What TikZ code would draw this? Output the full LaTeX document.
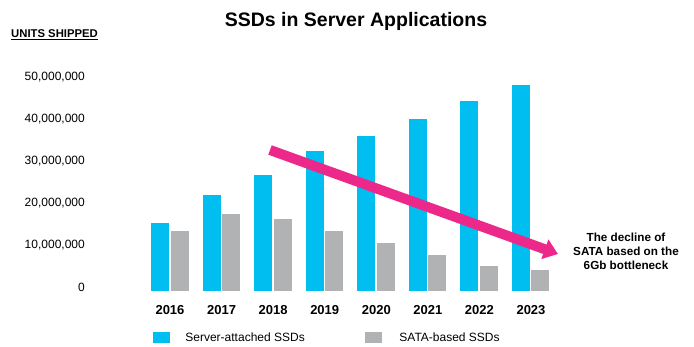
\documentclass[tikz,border=0pt]{standalone}
\usepackage{fontspec}
\setmainfont{Liberation Sans}
\usetikzlibrary{arrows.meta,positioning}
\definecolor{ssdblue}{RGB}{0,190,240}
\definecolor{satagray}{RGB}{176,178,180}
\definecolor{trendpink}{RGB}{236,41,138}
\newcommand{\mil}{4.21}% pt per million units

\begin{document}
\begin{tikzpicture}[x=1pt,y=1pt,
        ylab/.style={anchor=east,inner sep=0pt,font=\fontsize{12}{14}\selectfont},
        yearlab/.style={inner sep=0pt,font=\bfseries\fontsize{13}{15}\selectfont},
        legtext/.style={anchor=west,inner sep=0pt,font=\fontsize{12}{14}\selectfont},
        swatch/.style={minimum width=17pt,minimum height=11pt,inner sep=0pt},
        trend/.style={trendpink,line width=10pt,-{Triangle[length=14pt,width=20pt]}}]
    \useasboundingbox (0,0) rectangle (694,346);
    \node (title) at (356,325) {\bfseries\fontsize{19.5}{22}\selectfont SSDs in Server Applications};
    \node[anchor=west,inner sep=0pt] (units) at (11,311) {\bfseries\fontsize{11.3}{13}\selectfont\underline{UNITS SHIPPED}};
    % value axis
    \foreach \t [count=\i from 0] in {0,10,20,30,40,50}
        \node[ylab] (tick\i) at (85,{58.5+42*\i}) {\ifnum\t=0 0\else\t,000,000\fi};
    % bar pairs: year / server-attached / SATA (millions)
    \foreach \yr/\a/\b [count=\i from 0] in {2016/16.2/14.3, 2017/22.8/18.3, 2018/27.6/17.1, 2019/33.3/14.3,
            2020/36.8/11.4, 2021/40.9/8.6, 2022/45.1/5.9, 2023/48.9/5.0} {
        \pgfmathsetmacro\bx{151+51.57*\i}
        \fill[ssdblue] (\bx,55) rectangle ++(18,{\a*\mil});
        \fill[satagray] (\bx+19.5,55) rectangle ++(18,{\b*\mil});
        \node[yearlab] (yr\i) at (\bx+19,36) {\yr};
    }
    % legend
    \node[swatch,fill=ssdblue] (swA) at (161.5,8.5) {};
    \node[legtext,right=15pt of swA] (legA) {Server-attached SSDs};
    \node[swatch,fill=satagray] (swB) at (373.5,8.5) {};
    \node[legtext,right=17pt of swB] (legB) {SATA-based SSDs};
    % trend arrow
    \node[align=center,font=\bfseries\fontsize{11.7}{14.2}\selectfont] (note) at (626,94.7)
        {The decline of\\SATA based on the\\6Gb bottleneck};
    \coordinate (trendA) at (270,196);
    \coordinate (trendB) at (558,92);
    \draw[trend] (trendA) -- (trendB);
\end{tikzpicture}
\end{document}
